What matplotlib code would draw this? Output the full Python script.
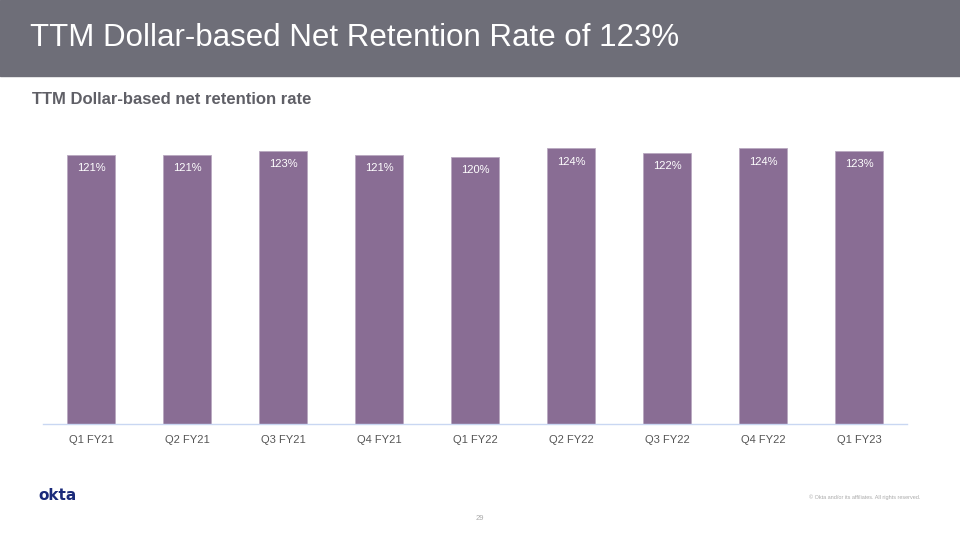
import matplotlib.pyplot as plt
import numpy as np

# data
quarters = ['Q1 FY21', 'Q2 FY21', 'Q3 FY21', 'Q4 FY21', 'Q1 FY22',
            'Q2 FY22', 'Q3 FY22', 'Q4 FY22', 'Q1 FY23']
retention = [121, 121, 123, 121, 120, 124, 122, 124, 123]

bar_color = '#896d94'
W, H = 960, 540

fig = plt.figure(figsize=(9.6, 5.4), dpi=100)
fig.patch.set_facecolor('white')

# header band
fig.patches.append(plt.Rectangle((0, 1 - 76 / H), 1, 76 / H, transform=fig.transFigure,
                                 color='#6e6e78', zorder=0))
fig.text(30 / W, 1 - 38 / H, 'TTM Dollar-based Net Retention Rate of 123%',
         color='white', fontsize=22.5, va='center', ha='left', family='Liberation Sans')
fig.text(32 / W, 1 - 100 / H, 'TTM Dollar-based net retention rate',
         color='#5f5f66', fontsize=12, fontweight='bold', va='center', ha='left',
         family='Liberation Sans')

# chart area
base_y = 424
top_y = 130
ax = fig.add_axes([43 / W, 1 - base_y / H, (907 - 43) / W, (base_y - top_y) / H])
px_per_pct = 269 / 121.0
ax.set_ylim(0, (base_y - top_y) / px_per_pct)
ax.set_xlim(-0.5, len(quarters) - 0.5)

x = np.arange(len(quarters))
bars = ax.bar(x, retention, width=0.5, color=bar_color, edgecolor='#b9a9c0', linewidth=0.6)

for xi, v in zip(x, retention):
    ax.annotate('%d%%' % v, (xi, v), xytext=(0, -9.5), textcoords='offset points',
                ha='center', va='center', color='white', fontsize=8, family='Liberation Sans')

ax.set_xticks(x)
ax.set_xticklabels(quarters, fontsize=8, color='#555555', family='Liberation Sans')
ax.tick_params(axis='x', length=0, pad=8)
ax.set_yticks([])
for s in ['top', 'right', 'left']:
    ax.spines[s].set_visible(False)
ax.spines['bottom'].set_color('#c9d7f2')
ax.spines['bottom'].set_linewidth(1.0)

# footer
fig.text(38 / W, 1 - 496 / H, 'okta', color='#1a2a7a', fontsize=11, fontweight='bold',
         va='center', ha='left', family='DejaVu Sans')
fig.text(920 / W, 1 - 497 / H, '© Okta and/or its affiliates. All rights reserved.',
         color='#aaaaaa', fontsize=4, va='center', ha='right', family='Liberation Sans')
fig.text(480 / W, 1 - 518 / H, '29', color='#aaaaaa', fontsize=5.5, va='center',
         ha='center', family='Liberation Sans')

fig.savefig('out.png', dpi=100)
